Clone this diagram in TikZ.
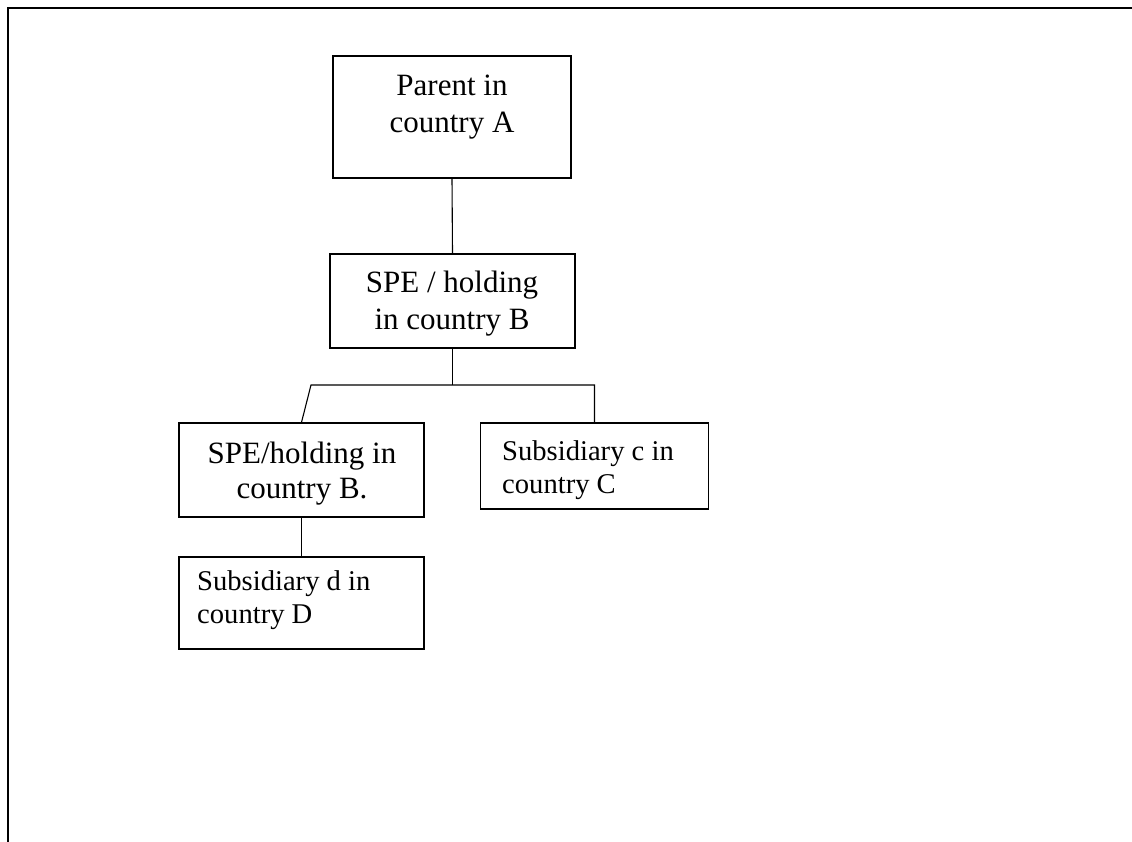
\documentclass[tikz,border=0pt]{standalone}
\usepackage{fontspec}
\setmainfont{Liberation Serif}
\begin{document}
\begin{tikzpicture}[x=1pt,y=-1pt,
  box/.style={draw,line width=1.3pt,inner sep=0pt,rectangle},
  big/.style={anchor=base,inner sep=0pt,font=\fontsize{31}{36}\selectfont},
  small/.style={anchor=base west,inner sep=0pt,font=\fontsize{28.6}{34}\selectfont},
  conn/.style={line width=1.1pt}]
\useasboundingbox (0,0) rectangle (1132,842);
\draw[line width=2pt] (8,845) -- (8,8) -- (1135,8);
% boxes
\node[box,minimum width=238pt,minimum height=122pt] (parent) at (452,117) {};
\node[box,minimum width=245pt,minimum height=94pt] (spe) at (452.5,301) {};
\node[box,minimum width=245pt,minimum height=94pt] (spe2) at (301.5,470) {};
\node[box,minimum width=245pt,minimum height=92pt] (subd) at (301.5,603) {};
\node[box,minimum width=228pt,minimum height=86pt] (subc) at (594.5,466) {};
% texts
\node[big] (parentL1) at (452,96) {Parent in};
\node[big] (parentL2) at (452,133) {country A};
\node[big] (speL1) at (452,293) {SPE / holding};
\node[big] (speL2) at (452,329) {in country B};
\node[big] (spe2L1) at (302,463) {SPE/holding in};
\node[big] (spe2L2) at (302,498) {country B.};
\node[small] (subcL1) at (502,460) {Subsidiary c in};
\node[small] (subcL2) at (502,493) {country C};
\node[small] (subdL1) at (197,590) {Subsidiary d in};
\node[small] (subdL2) at (197,623) {country D};
% connectors
\coordinate (j) at (452.5,385);
\coordinate (jl) at (311,385);
\coordinate (jr) at (594.5,385);
\draw[conn] (parent.south) -- (spe.north);
\draw[conn,line width=1.4pt] (spe.south) -- (j);
\draw[conn] (spe2.north) -- (jl) -- (jr) -- (subc.north);
\draw[conn] (spe2.south) -- (subd.north);
\end{tikzpicture}
\end{document}
